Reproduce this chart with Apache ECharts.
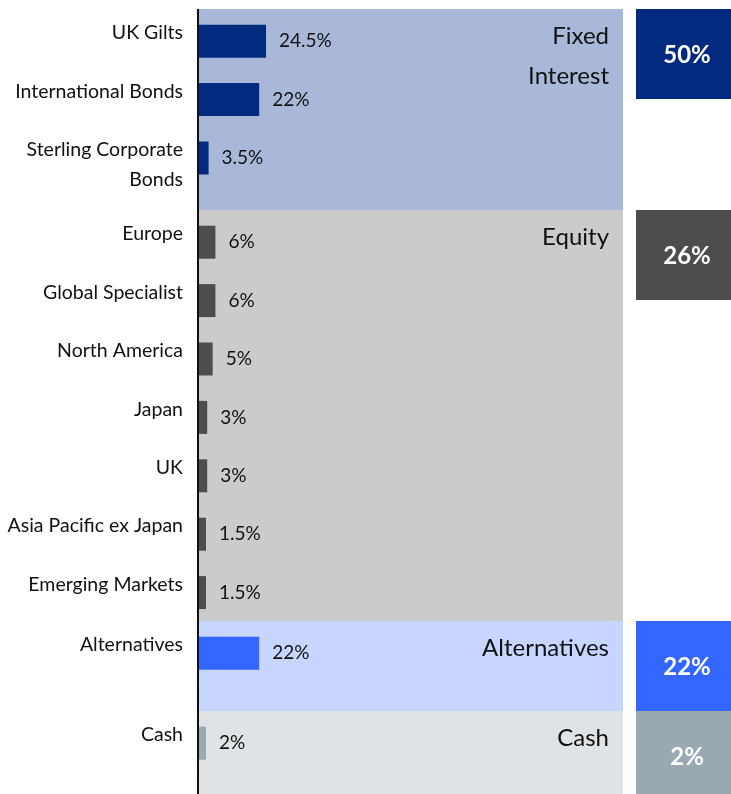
<!DOCTYPE html>
<html>
<head>
<meta charset="utf-8">
<script src="https://cdn.jsdelivr.net/npm/echarts@6/dist/echarts.min.js"></script>
<style>
  html, body { margin: 0; padding: 0; background: #fff; }
  #chart { width: 731px; height: 794px; }
</style>
</head>
<body>
<div id="chart"></div>
<script>
// allocation data
const fixedCats = ['UK Gilts', 'International Bonds', 'Sterling Corporate\nBonds']
const fixedVals = [24.5, 22, 3.5]
const equityCats = ['Europe', 'Global Specialist', 'North America', 'Japan', 'UK', 'Asia Pacific ex Japan', 'Emerging Markets']
const equityVals = [6, 6, 5, 3, 3, 1.5, 1.5]
const altCats = ['Alternatives']
const altVals = [22]
const cashCats = ['Cash']
const cashVals = [2]
const groupNames = ['Fixed\nInterest', 'Equity', 'Alternatives', 'Cash']
const groupTotals = [50, 26, 22, 2]

// colours per group
const barColors = ['#022b80', '#4d4d4d', '#3366ff', '#9aa9b1']
const bandColors = ['#a9b8d8', '#cbcbcb', '#c8d5fe', '#dfe3e6']

// layout
const FONT = 'Lato, "Open Sans", sans-serif'
const ROW = 58.4
const bandTops = [9, 210, 621, 711]
const bandHeights = [201, 411, 90, 90]
const LEFT = 199
const PLOT_W = 424

const panels = [
  { cats: fixedCats, vals: fixedVals },
  { cats: equityCats, vals: equityVals },
  { cats: altCats, vals: altVals },
  { cats: cashCats, vals: cashVals }
]

const chart = echarts.init(document.getElementById('chart'))

const graphic = []
panels.forEach((p, i) => {
  graphic.push({
    type: 'rect', z: 0,
    shape: { x: LEFT, y: bandTops[i], width: PLOT_W, height: bandHeights[i] },
    style: { fill: bandColors[i] }
  })
  graphic.push({
    type: 'text', z: 1,
    style: {
      text: groupNames[i], x: 609, y: bandTops[i] + 7,
      align: 'right', verticalAlign: 'top', lineHeight: 40,
      font: '24px ' + FONT, fill: '#111'
    }
  })
  graphic.push({
    type: 'rect', z: 0,
    shape: { x: 636, y: bandTops[i], width: 100, height: 90 },
    style: { fill: barColors[i] }
  })
  graphic.push({
    type: 'text', z: 1,
    style: {
      text: groupTotals[i] + '%', x: 687, y: bandTops[i] + 46,
      align: 'center', verticalAlign: 'middle',
      font: 'bold 24px ' + FONT, fill: '#fff'
    }
  })
})
// left axis rule
graphic.push({
  type: 'line', z: 10,
  shape: { x1: 198, y1: 9, x2: 198, y2: 794 },
  style: { stroke: '#111', lineWidth: 2 }
})

const option = {
  animation: false,
  grid: panels.map((p, i) => ({
    left: LEFT, width: PLOT_W,
    top: bandTops[i] + 3, height: p.cats.length * ROW
  })),
  xAxis: panels.map((p, i) => ({
    type: 'value', gridIndex: i, min: 0, max: 155, show: false
  })),
  yAxis: panels.map((p, i) => ({
    type: 'category', gridIndex: i, inverse: true, data: p.cats,
    axisLine: { show: false },
    axisTick: { show: true, length: 3, lineStyle: { color: '#e4e4e4' } },
    axisLabel: {
      margin: 16,
      formatter: function (v) {
        const parts = v.split('\n')
        return '{a|' + parts[0] + '}\n{b|' + (parts[1] || ' ') + '}'
      },
      rich: {
        a: { fontFamily: FONT, fontSize: 19.5, color: '#111', lineHeight: 44 },
        b: { fontFamily: FONT, fontSize: 19.5, color: '#111', lineHeight: 16 }
      }
    }
  })),
  series: panels.map((p, i) => ({
    type: 'bar', xAxisIndex: i, yAxisIndex: i,
    data: p.vals, barWidth: 33, barMinHeight: 7, z: 2,
    itemStyle: { color: barColors[i] },
    label: {
      show: true, position: 'right', distance: 13,
      formatter: '{c}%', fontFamily: FONT, fontSize: 19, color: '#111'
    }
  })),
  graphic: graphic
}

chart.setOption(option)
</script>
</body>
</html>
